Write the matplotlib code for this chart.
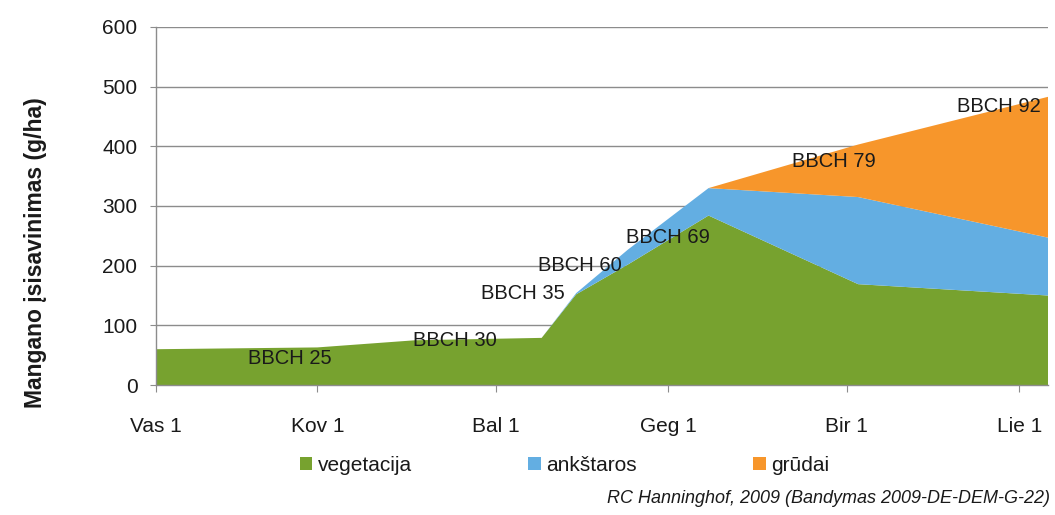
import matplotlib
matplotlib.use("Agg")
import matplotlib.pyplot as plt

plt.rcParams['font.family'] = ['Liberation Sans', 'DejaVu Sans']

# days counted from Feb 1 (Vas 1)
days = [0, 28, 45, 67, 73, 82, 96, 122, 155]
vegetacija = [60, 63, 75, 79, 152, 202, 284, 169, 150]
ankstaros = [0, 0, 0, 0, 2, 25, 46, 146, 97]
grudai = [0, 0, 0, 0, 0, 0, 0, 88, 236]

month_days = [0, 28, 59, 89, 120, 150]
month_labels = ['Vas 1', 'Kov 1', 'Bal 1', 'Geg 1', 'Bir 1', 'Lie 1']

stage_labels = ['BBCH 25', 'BBCH 30', 'BBCH 35', 'BBCH 60', 'BBCH 69', 'BBCH 79', 'BBCH 92']
stage_x = [23.3, 52, 63.7, 73.7, 89, 117.7, 146.4]
stage_y = [45, 75, 154, 201, 248, 374, 466]

colors = ['#77a22f', '#63aee2', '#f7962b']

fig = plt.figure(figsize=(10.55, 5.15), dpi=100)
ax = fig.add_axes([0.148, 0.2524, 0.8454, 0.6952])

ax.stackplot(days, vegetacija, ankstaros, grudai, colors=colors,
             labels=['vegetacija', 'ankštaros', 'grūdai'], zorder=2)

ax.set_xlim(0, 155)
ax.set_ylim(0, 600)
ax.set_yticks(range(0, 601, 100))
ax.set_xticks(month_days)
ax.set_xticklabels(month_labels)
ax.yaxis.grid(True, color='#8c8c8c', linewidth=1)
ax.set_axisbelow(True)

for s in ['top', 'right']:
    ax.spines[s].set_visible(False)
for s in ['left', 'bottom']:
    ax.spines[s].set_color('#8c8c8c')
    ax.spines[s].set_linewidth(1)

ax.tick_params(axis='x', length=5, color='#8c8c8c', pad=18, labelsize=15, labelcolor='#1a1a1a')
ax.tick_params(axis='y', length=4.5, color='#8c8c8c', pad=9, labelsize=15, labelcolor='#1a1a1a')

for t, x, y in zip(stage_labels, stage_x, stage_y):
    ax.text(x, y, t, ha='center', va='center', fontsize=14.5, color='#1a1a1a', zorder=3)

fig.text(0.034, 0.51, 'Mangano įsisavinimas (g/ha)', rotation=90, ha='center', va='center',
         fontsize=16.5, fontweight='bold', color='#1a1a1a')

ax.legend(loc='center', bbox_to_anchor=(0.535, 0.097), bbox_transform=fig.transFigure,
          ncol=3, frameon=False, fontsize=15, handlelength=0.6, handleheight=0.6,
          handletextpad=0.25, columnspacing=5.6, labelcolor='#1a1a1a')

fig.text(0.995, 0.033, 'RC Hanninghof, 2009 (Bandymas 2009-DE-DEM-G-22)', ha='right', va='center',
         fontsize=13, style='italic', color='#1a1a1a')

fig.savefig('out.png', dpi=100)
